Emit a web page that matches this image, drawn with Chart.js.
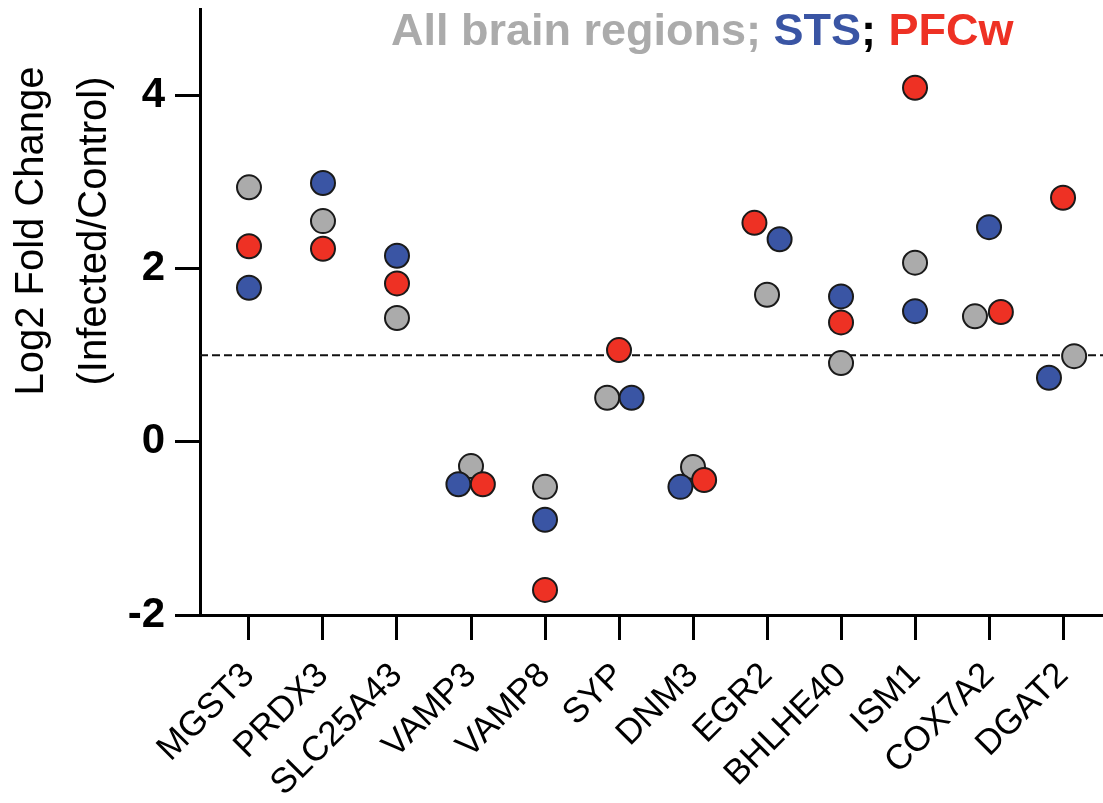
<!DOCTYPE html>
<html>
<head>
<meta charset="utf-8">
<script src="https://cdn.jsdelivr.net/npm/chart.js@4.4.1/dist/chart.umd.min.js"></script>
<style>
  html, body { margin: 0; padding: 0; background: #ffffff; }
  #wrap { width: 1103px; height: 803px; position: relative; }
</style>
</head>
<body>
<div id="wrap"><canvas id="c"></canvas></div>
<script>
// ---- data ----
const categories = ['MGST3','PRDX3','SLC25A43','VAMP3','VAMP8','SYP','DNM3','EGR2','BHLHE40','ISM1','COX7A2','DGAT2'];
const allRegions = [2.94, 2.55, 1.43, -0.28, -0.52, 0.51, -0.29, 1.70, 0.91, 2.07, 1.45, 0.99];
const sts        = [1.78, 2.99, 2.15, -0.49, -0.90, 0.51, -0.52, 2.34, 1.68, 1.51, 2.48, 0.74];
const pfcw       = [2.26, 2.23, 1.83, -0.49, -1.71, 1.06, -0.44, 2.53, 1.38, 4.09, 1.50, 2.82];
// horizontal nudges (in category units) used in the original to avoid overlaps
const allJitter  = [0, 0, 0, 0, 0, -0.16, 0, 0, 0, 0, -0.19, 0.15];
const stsJitter  = [0, 0, 0, -0.17, 0, 0.17, -0.17, 0.17, 0, 0, 0, -0.19];
const pfcJitter  = [0, 0, 0, 0.16, 0, 0, 0.15, -0.17, 0, 0, 0.16, 0];
const yTicks = [-2, 0, 2, 4];
const threshold = 1;

const GREY = '#ababab', BLUE = '#3a55a4', RED = '#ee3124';
const FONT = "'Liberation Sans', Arial, Helvetica, sans-serif";

function pts(vals, jit) { return vals.map((v, i) => ({ x: i + jit[i], y: v })); }

const refLine = {
  id: 'refLine',
  beforeDatasetsDraw(chart) {
    const { ctx, chartArea, scales } = chart;
    const y = scales.y.getPixelForValue(threshold);
    ctx.save();
    ctx.strokeStyle = '#111';
    ctx.lineWidth = 2;
    ctx.setLineDash([8, 4]);
    ctx.beginPath();
    ctx.moveTo(chartArea.left, y);
    ctx.lineTo(chartArea.right, y);
    ctx.stroke();
    ctx.restore();
  }
};

const texts = {
  id: 'texts',
  afterDraw(chart) {
    const ctx = chart.ctx;
    ctx.save();
    // y-axis title (two lines)
    ctx.fillStyle = '#000';
    ctx.font = '40px ' + FONT;
    ctx.textAlign = 'center';
    ctx.textBaseline = 'alphabetic';
    [['Log2 Fold Change', 43], ['(Infected/Control)', 106]].forEach(([t, x]) => {
      ctx.save();
      ctx.translate(x, 231);
      ctx.rotate(-Math.PI / 2);
      ctx.fillText(t, 0, 0);
      ctx.restore();
    });
    // coloured header
    ctx.font = 'bold 45px ' + FONT;
    ctx.textAlign = 'left';
    let x = 391;
    const yb = 45;
    [['All brain regions; ', GREY], ['STS', BLUE], ['; ', '#000'], ['PFCw', RED]].forEach(([t, c]) => {
      ctx.fillStyle = c;
      ctx.fillText(t, x, yb);
      x += ctx.measureText(t).width;
    });
    ctx.restore();
  }
};

const common = { pointRadius: 12, pointHoverRadius: 12, borderWidth: 2, pointBorderColor: '#1a1a1a', showLine: false, clip: false };

new Chart(document.getElementById('c'), {
  type: 'scatter',
  data: {
    datasets: [
      Object.assign({ label: 'PFCw', data: pts(pfcw, pfcJitter), backgroundColor: RED, pointBackgroundColor: RED, order: 0 }, common),
      Object.assign({ label: 'STS', data: pts(sts, stsJitter), backgroundColor: BLUE, pointBackgroundColor: BLUE, order: 1 }, common),
      Object.assign({ label: 'All brain regions', data: pts(allRegions, allJitter), backgroundColor: GREY, pointBackgroundColor: GREY, order: 2 }, common)
    ]
  },
  options: {
    responsive: true,
    maintainAspectRatio: false,
    animation: false,
    devicePixelRatio: 1,
    layout: { autoPadding: false, padding: { top: 9, left: 0, right: 0, bottom: 0 } },
    plugins: { legend: { display: false }, tooltip: { enabled: false }, title: { display: false } },
    scales: {
      x: {
        type: 'linear',
        min: -0.662,
        max: 11.54,
        afterBuildTicks: (axis) => { axis.ticks = categories.map((_, i) => ({ value: i })); },
        afterFit: (s) => { s.height = 803 - 615; s.paddingLeft = 0; s.paddingRight = 0; },
        grid: { drawOnChartArea: false, tickLength: 25, tickWidth: 3, tickColor: '#000' },
        border: { display: true, width: 3, color: '#000' },
        ticks: {
          autoSkip: false,
          minRotation: 45,
          maxRotation: 45,
          padding: 15,
          color: '#000',
          font: { family: FONT, size: 35 },
          callback: (v) => categories[v] ?? ''
        }
      },
      y: {
        min: -2,
        max: 5,
        afterBuildTicks: (axis) => { axis.ticks = yTicks.map(v => ({ value: v })); },
        afterFit: (s) => { s.width = 200; s.paddingTop = 0; s.paddingBottom = 0; },
        grid: { drawOnChartArea: false, tickLength: 25, tickWidth: 3, tickColor: '#000' },
        border: { display: true, width: 3, color: '#000' },
        ticks: {
          padding: 10,
          color: '#000',
          font: { family: FONT, size: 42, weight: 'bold' }
        }
      }
    }
  },
  plugins: [refLine, texts]
});
</script>
</body>
</html>
